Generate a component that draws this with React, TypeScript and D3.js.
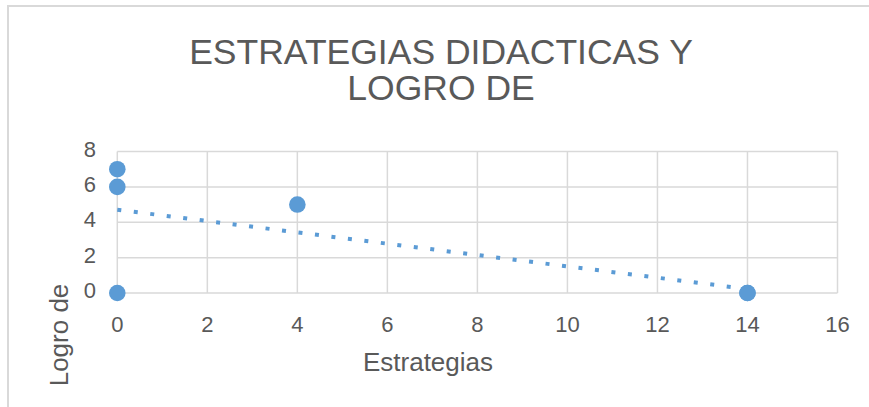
import React, { useEffect, useRef } from 'react';
import * as d3 from 'd3';

// Data (two points sit on (14, 0))
const estrategias = [0, 0, 0, 4, 14, 14];
const logro = [7, 6, 0, 5, 0, 0];
const xTicks = [0, 2, 4, 6, 8, 10, 12, 14, 16];
const yTicks = [0, 2, 4, 6, 8];
const titleLines = ['ESTRATEGIAS DIDACTICAS Y', 'LOGRO DE'];

const FONT = '"Liberation Sans", Arial, sans-serif';
const TEXT = '#595959';
const GRID = '#d9d9d9';
const BLUE = '#5b9bd5';

const App: React.FC = () => {
  const ref = useRef<SVGSVGElement>(null);

  useEffect(() => {
    const svg = d3.select(ref.current);
    svg.selectAll('*').remove();

    const width = 869;
    const height = 407;

    const x = d3.scaleLinear().domain([0, 16]).range([117.3, 837.5]);
    const y = d3.scaleLinear().domain([0, 8]).range([293, 151.5]);

    // Chart area border
    svg.append('rect')
      .attr('x', 8)
      .attr('y', 6)
      .attr('width', width + 20)
      .attr('height', height + 20)
      .attr('fill', '#fff')
      .attr('stroke', GRID)
      .attr('stroke-width', 2);

    // Title (one text element, two lines)
    svg.append('text')
      .attr('text-anchor', 'middle')
      .style('font-family', FONT)
      .style('font-size', '35.5px')
      .style('fill', TEXT)
      .selectAll('tspan')
      .data(titleLines)
      .join('tspan')
      .attr('x', 441)
      .attr('y', (d, i) => 63.5 + i * 36)
      .text(d => d);

    // Gridlines
    svg.append('g')
      .selectAll('line')
      .data(yTicks)
      .join('line')
      .attr('x1', x(0))
      .attr('x2', x(16))
      .attr('y1', d => y(d))
      .attr('y2', d => y(d))
      .attr('stroke', GRID)
      .attr('stroke-width', 1.5);

    svg.append('g')
      .selectAll('line')
      .data(xTicks)
      .join('line')
      .attr('x1', d => x(d))
      .attr('x2', d => x(d))
      .attr('y1', y(0))
      .attr('y2', y(8))
      .attr('stroke', GRID)
      .attr('stroke-width', 1.5);

    // Tick labels
    svg.append('g')
      .selectAll('text')
      .data(yTicks)
      .join('text')
      .attr('x', 96)
      .attr('y', d => y(d) + 5)
      .attr('text-anchor', 'end')
      .style('font-family', FONT)
      .style('font-size', '22px')
      .style('fill', TEXT)
      .text(d => d);

    svg.append('g')
      .selectAll('text')
      .data(xTicks)
      .join('text')
      .attr('x', d => x(d))
      .attr('y', 332)
      .attr('text-anchor', 'middle')
      .style('font-family', FONT)
      .style('font-size', '22px')
      .style('fill', TEXT)
      .text(d => d);

    // Axis titles
    svg.append('text')
      .attr('x', 428)
      .attr('y', 371)
      .attr('text-anchor', 'middle')
      .style('font-family', FONT)
      .style('font-size', '26px')
      .style('fill', TEXT)
      .text('Estrategias');

    svg.append('text')
      .attr('transform', 'translate(68,335) rotate(-90)')
      .attr('text-anchor', 'middle')
      .style('font-family', FONT)
      .style('font-size', '26px')
      .style('fill', TEXT)
      .text('Logro de');

    // Linear trendline (least squares over the points)
    const pts = estrategias.map((v, i) => [v, logro[i]] as [number, number]);
    const mx = d3.mean(pts, p => p[0])!;
    const my = d3.mean(pts, p => p[1])!;
    const sxy = d3.sum(pts, p => (p[0] - mx) * (p[1] - my));
    const sxx = d3.sum(pts, p => (p[0] - mx) * (p[0] - mx));
    const slope = sxy / sxx;
    const intercept = my - slope * mx;
    const [x0, x1] = d3.extent(estrategias) as [number, number];

    const line = d3.line<number>()
      .x(d => x(d))
      .y(d => y(intercept + slope * d));

    svg.append('path')
      .attr('d', line([x0, x1]))
      .attr('fill', 'none')
      .attr('stroke', BLUE)
      .attr('stroke-width', 4)
      .attr('stroke-dasharray', '4 12.6');

    // Points
    svg.append('g')
      .selectAll('circle')
      .data(pts)
      .join('circle')
      .attr('cx', d => x(d[0]))
      .attr('cy', d => y(d[1]))
      .attr('r', 8.3)
      .attr('fill', BLUE);
  }, []);

  return (
    <div style={{ position: 'absolute', left: 0, top: 0, width: 869, height: 407, overflow: 'hidden', background: '#fff' }}>
      <svg ref={ref} width={869} height={407} style={{ display: 'block' }}></svg>
    </div>
  );
};

export default App;
